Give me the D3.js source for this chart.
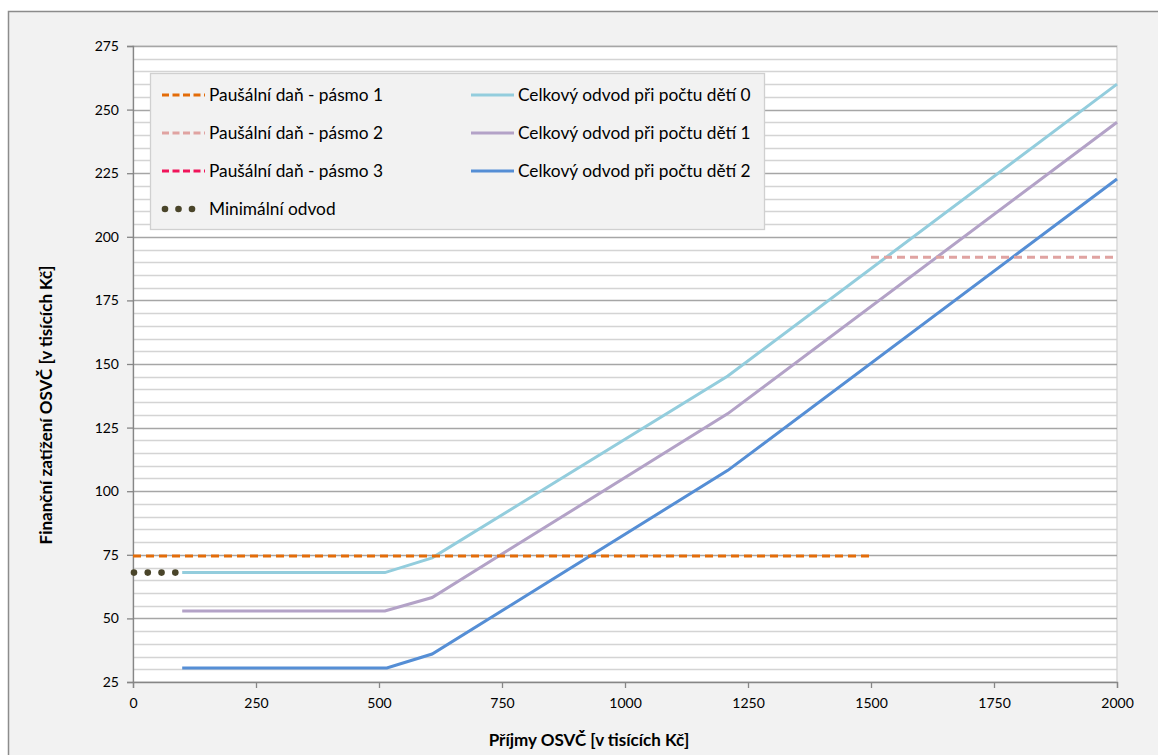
<!DOCTYPE html>
<html>
<head>
<meta charset="utf-8">
<script src="https://cdn.jsdelivr.net/npm/d3@7"></script>
<style>
  html, body { margin: 0; padding: 0; background: #ffffff; }
  svg { display: block; }
  text { font-family: Lato, "Open Sans", sans-serif; fill: #000; }
</style>
</head>
<body>
<svg id="chart" width="1158" height="755"></svg>
<script>
// Income of the self-employed person (thousand CZK) and resulting burden
const xTicks = [0, 250, 500, 750, 1000, 1250, 1500, 1750, 2000];
const yTicks = [25, 50, 75, 100, 125, 150, 175, 200, 225, 250, 275];

// Flat-rate tax bands: [income, burden]
const pasmo1 = [[0, 74.5], [1500, 74.5]];
const pasmo2 = [[1500, 192], [2000, 192]];
const pasmo3 = [];

// Minimum contribution
const minimalniOdvod = [[0, 68], [90, 68]];

// Total contribution by number of children
const deti0 = [[100, 68], [512, 68], [608, 73.8], [1209, 145.3], [2000, 260]];
const deti1 = [[100, 52.9], [512, 52.9], [608, 58.2], [1209, 130.5], [2000, 245]];
const deti2 = [[100, 30.5], [516, 30.5], [608, 36], [1209, 108.2], [2000, 222.7]];

const series = [
  { name: "Paušální daň - pásmo 1", data: pasmo1, color: "#e36c09", dash: "8,5", col: 0, row: 0 },
  { name: "Paušální daň - pásmo 2", data: pasmo2, color: "#e0a3a1", dash: "8,5", col: 0, row: 1 },
  { name: "Paušální daň - pásmo 3", data: pasmo3, color: "#f0145a", dash: "8,5", col: 0, row: 2 },
  { name: "Minimální odvod", data: minimalniOdvod, color: "#4a452a", dots: true, col: 0, row: 3 },
  { name: "Celkový odvod při počtu dětí 0", data: deti0, color: "#93cddd", col: 1, row: 0 },
  { name: "Celkový odvod při počtu dětí 1", data: deti1, color: "#b3a2c7", col: 1, row: 1 },
  { name: "Celkový odvod při počtu dětí 2", data: deti2, color: "#558ed5", col: 1, row: 2 }
];

const svg = d3.select("#chart");
const W = 1158, H = 755;

// outer chart panel
svg.append("rect").attr("x", 8.5).attr("y", 11.5).attr("width", W).attr("height", H)
  .attr("fill", "#f2f2f2").attr("stroke", "#8c8c8c").attr("stroke-width", 1.5);

const plot = { left: 133, right: 1117, top: 46, bottom: 682 };
const x = d3.scaleLinear().domain([0, 2000]).range([plot.left, plot.right]);
const y = d3.scaleLinear().domain([25, 275]).range([plot.bottom, plot.top]);

// plot area
svg.append("rect").attr("x", plot.left).attr("y", plot.top)
  .attr("width", plot.right - plot.left).attr("height", plot.bottom - plot.top)
  .attr("fill", "#ffffff").attr("stroke", "#d9d9d9").attr("stroke-width", 1.5);

// minor gridlines every 5
const minor = d3.range(30, 275, 5).filter(v => v % 25 !== 0);
svg.append("g").selectAll("line").data(minor).join("line")
  .attr("x1", plot.left).attr("x2", plot.right)
  .attr("y1", d => Math.round(y(d)) + 0.5).attr("y2", d => Math.round(y(d)) + 0.5)
  .attr("stroke", "#d4d4d4").attr("stroke-width", 1.3);

// major gridlines
svg.append("g").selectAll("line").data(yTicks.filter(v => v > 25)).join("line")
  .attr("x1", plot.left).attr("x2", plot.right)
  .attr("y1", d => Math.round(y(d)) + 0.5).attr("y2", d => Math.round(y(d)) + 0.5)
  .attr("stroke", "#a6a6a6").attr("stroke-width", 1.3);

// axes
const yAxis = d3.axisLeft(y).tickValues(yTicks).tickSize(6).tickPadding(8).tickFormat(d3.format("d"));
const gy = svg.append("g").attr("transform", `translate(${plot.left},0)`).call(yAxis);
gy.select(".domain").attr("stroke", "#868686").attr("stroke-width", 1.3);
gy.selectAll(".tick line").attr("stroke", "#868686").attr("stroke-width", 1.3);
gy.selectAll(".tick text").attr("font-size", 14).attr("font-family", "Lato, sans-serif").attr("fill", "#000");

const xAxis = d3.axisBottom(x).tickValues(xTicks).tickSize(6).tickPadding(10).tickFormat(d3.format("d"));
const gx = svg.append("g").attr("transform", `translate(0,${plot.bottom})`).call(xAxis);
gx.select(".domain").attr("stroke", "#868686").attr("stroke-width", 1.3);
gx.selectAll(".tick line").attr("stroke", "#868686").attr("stroke-width", 1.3);
gx.selectAll(".tick text").attr("font-size", 14).attr("font-family", "Lato, sans-serif").attr("fill", "#000");

// axis titles
svg.append("text").attr("x", 589).attr("y", 746).attr("text-anchor", "middle")
  .attr("font-size", 17).attr("font-weight", "bold").text("Příjmy OSVČ [v tisících Kč]");
svg.append("text").attr("transform", `translate(52,405) rotate(-90)`)
  .attr("text-anchor", "middle").attr("font-size", 17).attr("font-weight", "bold")
  .text("Finanční zatížení OSVČ [v tisících Kč]");

// series lines
const line = d3.line().x(d => x(d[0])).y(d => y(d[1]));
const order = [4, 5, 6, 1, 2, 0, 3];
order.forEach(i => {
  const s = series[i];
  if (!s.data.length) return;
  if (s.dots) {
    const xs = d3.range(s.data[0][0] + 2, s.data[1][0], 28);
    svg.append("g").selectAll("circle").data(xs).join("circle")
      .attr("cx", d => x(d)).attr("cy", y(s.data[0][1])).attr("r", 3.3).attr("fill", s.color);
  } else {
    svg.append("path").datum(s.data).attr("d", line).attr("fill", "none")
      .attr("stroke", s.color).attr("stroke-width", 3)
      .attr("stroke-dasharray", s.dash || null);
  }
});

// legend
const lg = svg.append("g");
lg.append("rect").attr("x", 150.5).attr("y", 73.5).attr("width", 614).attr("height", 156)
  .attr("fill", "#f2f2f2").attr("stroke", "#d0d0d0").attr("stroke-width", 1.3);
const rowY = [95, 133, 171, 209];
const colX = [162, 471];
series.forEach(s => {
  const lx = colX[s.col], ly = rowY[s.row];
  if (s.dots) {
    [0, 1, 2].forEach(k => lg.append("circle").attr("cx", lx + 3 + k * 13.5).attr("cy", ly)
      .attr("r", 3.3).attr("fill", s.color));
  } else {
    lg.append("line").attr("x1", lx).attr("x2", lx + 43).attr("y1", ly).attr("y2", ly)
      .attr("stroke", s.color).attr("stroke-width", 3)
      .attr("stroke-dasharray", s.dash ? "7,3.5" : null);
  }
  lg.append("text").attr("x", lx + 47).attr("y", ly + 6).attr("font-size", 17.3).text(s.name);
});
</script>
</body>
</html>
